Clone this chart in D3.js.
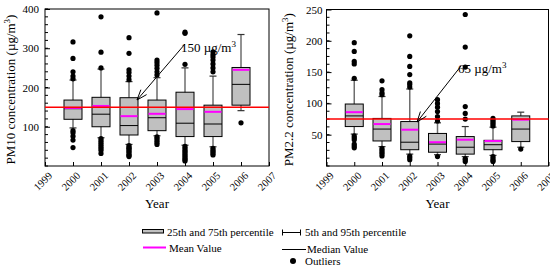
<!DOCTYPE html>
<html>
<head>
<meta charset="utf-8">
<script src="https://cdn.jsdelivr.net/npm/d3@7"></script>
<style>
  body { margin: 0; background: #fff; }
  svg { display: block; font-family: "Liberation Serif", "Times New Roman", serif; }
</style>
</head>
<body>
<svg></svg>
<script>
let years = [2000, 2001, 2002, 2003, 2004, 2005, 2006];
let yearTicks = [1999, 2000, 2001, 2002, 2003, 2004, 2005, 2006, 2007];

// PM10
let pm10Q1 = [119, 100, 79, 90, 75, 75, 155];
let pm10Median = [146, 132, 103, 123, 109, 107, 208];
let pm10Q3 = [168, 175, 174, 168, 188, 155, 251];
let pm10Mean = [148, 153, 127, 133, 145, 138, 245];
let pm10Low = [97, 72, 55, 77, 53, 49, 141];
let pm10High = [219, 247, 215, 225, 250, 229, 335];
let pm10Outliers = [
  [316, 274, 240, 229, 222, 90, 85, 76, 66, 47],
  [380, 290, 250, 70, 65, 60, 55, 50, 45, 40, 32],
  [327, 287, 245, 238, 229, 220, 52, 48, 45, 42, 38, 35, 30, 27, 24],
  [390, 270, 264, 257, 249, 240, 232, 74, 70, 65, 60, 55],
  [341, 338, 259, 50, 45, 40, 36, 32, 28, 24, 20, 16, 13],
  [291, 284, 278, 270, 260, 250, 240, 45, 40, 36, 32, 28],
  [110]
];
let pm10Ticks = [100, 200, 300, 400];
let pm10Limit = 150;

// PM2.2
let pm22Q1 = [63, 40, 26, 22, 19, 26, 39];
let pm22Median = [80, 59, 38, 35, 30, 34, 59];
let pm22Q3 = [99, 76, 71, 52, 47, 41, 80];
let pm22Mean = [86, 67, 58, 38, 42, 40, 74];
let pm22Low = [51, 31, 19, 18, 15, 17, 30];
let pm22High = [137, 111, 123, 69, 63, 62, 86];
let pm22Outliers = [
  [197, 183, 167, 163, 140, 48, 45, 42, 35, 32, 29],
  [136, 122, 117, 114, 28, 25, 22, 19, 16],
  [208, 175, 159, 146, 133, 130, 126, 16, 13, 10],
  [106, 100, 94, 87, 79, 72, 15],
  [242, 190, 158, 95, 84, 75, 12, 10, 7],
  [76, 73, 70, 67, 64, 15, 12, 9, 7],
  [27]
];
let pm22Ticks = [50, 100, 150, 200, 250];
let pm22Limit = 75;

let width = 550;
let height = 266;
let svg = d3.select("svg").attr("width", width).attr("height", height);

let boxWidth = 18;
let capWidth = 7;

let drawPanel = (p) => {
  let x = d3.scaleLinear().domain([1999, 2007]).range([p.left, p.right]);
  let y = d3.scaleLinear().domain([0, p.max]).range([p.bottom, p.top]);
  let g = svg.append("g");

  // minor ticks
  let minor = d3.range(0, p.max + 0.01, p.minorStep);
  g.selectAll("line.minor")
    .data(minor)
    .enter()
    .append("line")
    .attr("x1", p.left)
    .attr("x2", p.left + 3)
    .attr("y1", (d) => y(d))
    .attr("y2", (d) => y(d))
    .attr("stroke", "#000")
    .attr("stroke-width", 1);

  let yAxis = d3.axisLeft(y).tickValues(p.ticks).tickSize(-5).tickPadding(6);
  g.append("g")
    .attr("transform", `translate(${p.left},0)`)
    .call(yAxis)
    .call((a) => a.select(".domain").remove())
    .call((a) => a.selectAll("text").attr("font-size", 11).attr("font-family", "Liberation Serif").attr("dx", p.labelDx));

  let xAxis = d3.axisBottom(x).tickValues(yearTicks).tickSize(-4).tickFormat(d3.format("d"));
  g.append("g")
    .attr("transform", `translate(0,${p.bottom})`)
    .call(xAxis)
    .call((a) => a.select(".domain").remove())
    .call((a) =>
      a.selectAll("text")
        .attr("font-size", 10.5)
        .attr("font-family", "Liberation Serif")
        .attr("text-anchor", "end")
        .attr("dy", "0.3em")
        .attr("transform", "translate(3,6) rotate(-45)")
    );

  // frame
  g.append("rect")
    .attr("x", p.left)
    .attr("y", p.top)
    .attr("width", p.right - p.left)
    .attr("height", p.bottom - p.top)
    .attr("fill", "none")
    .attr("stroke", "#000")
    .attr("stroke-width", 1);

  let idx = d3.range(years.length);

  // whiskers
  g.selectAll("line.whisker")
    .data(idx)
    .enter()
    .append("line")
    .attr("x1", (i) => x(years[i]))
    .attr("x2", (i) => x(years[i]))
    .attr("y1", (i) => y(p.low[i]))
    .attr("y2", (i) => y(p.high[i]))
    .attr("stroke", "#6e6e6e")
    .attr("stroke-width", 1.5);
  [p.low, p.high].forEach((arr) => {
    g.selectAll(null)
      .data(idx)
      .enter()
      .append("line")
      .attr("x1", (i) => x(years[i]) - capWidth / 2)
      .attr("x2", (i) => x(years[i]) + capWidth / 2)
      .attr("y1", (i) => y(arr[i]))
      .attr("y2", (i) => y(arr[i]))
      .attr("stroke", "#333")
      .attr("stroke-width", 1.2);
  });

  // boxes
  g.selectAll("rect.box")
    .data(idx)
    .enter()
    .append("rect")
    .attr("x", (i) => x(years[i]) - boxWidth / 2)
    .attr("y", (i) => y(p.q3[i]))
    .attr("width", boxWidth)
    .attr("height", (i) => y(p.q1[i]) - y(p.q3[i]))
    .attr("fill", "#c0c0c0")
    .attr("stroke", "#000")
    .attr("stroke-width", 1);

  g.selectAll("line.median")
    .data(idx)
    .enter()
    .append("line")
    .attr("x1", (i) => x(years[i]) - boxWidth / 2)
    .attr("x2", (i) => x(years[i]) + boxWidth / 2)
    .attr("y1", (i) => y(p.median[i]))
    .attr("y2", (i) => y(p.median[i]))
    .attr("stroke", "#000")
    .attr("stroke-width", 1);

  g.selectAll("line.mean")
    .data(idx)
    .enter()
    .append("line")
    .attr("x1", (i) => x(years[i]) - boxWidth / 2 + 0.5)
    .attr("x2", (i) => x(years[i]) + boxWidth / 2 - 0.5)
    .attr("y1", (i) => y(p.mean[i]))
    .attr("y2", (i) => y(p.mean[i]))
    .attr("stroke", "#ff00ff")
    .attr("stroke-width", 2);

  // outliers
  let pts = [];
  p.outliers.forEach((arr, i) => arr.forEach((v) => pts.push([years[i], v])));
  g.selectAll("circle")
    .data(pts)
    .enter()
    .append("circle")
    .attr("cx", (d) => x(d[0]))
    .attr("cy", (d) => y(d[1]))
    .attr("r", 2.6)
    .attr("fill", "#000");

  // limit line
  g.append("line")
    .attr("x1", p.left)
    .attr("x2", p.right)
    .attr("y1", y(p.limit))
    .attr("y2", y(p.limit))
    .attr("stroke", "#ff0000")
    .attr("stroke-width", 1.5);

  // annotation arrow
  let a = p.arrow;
  g.append("line")
    .attr("x1", a[0]).attr("y1", a[1]).attr("x2", a[2]).attr("y2", a[3])
    .attr("stroke", "#000").attr("stroke-width", 1);
  let ang = Math.atan2(a[1] - a[3], a[0] - a[2]);
  [-0.35, 0.35].forEach((da) => {
    g.append("line")
      .attr("x1", a[2]).attr("y1", a[3])
      .attr("x2", a[2] + 11 * Math.cos(ang + da))
      .attr("y2", a[3] + 11 * Math.sin(ang + da))
      .attr("stroke", "#000").attr("stroke-width", 1);
  });
  let t = g.append("text")
    .attr("x", p.noteX)
    .attr("y", p.noteY)
    .attr("font-size", 13);
  t.append("tspan").text(p.note + " \u00b5g/m");
  t.append("tspan").attr("dy", -5).attr("font-size", 9).text("3");

  // axis titles
  g.append("text")
    .attr("x", (p.left + p.right) / 2)
    .attr("y", 208)
    .attr("text-anchor", "middle")
    .attr("font-size", 13)
    .text("Year");
  let yt = g.append("text")
    .attr("transform", `translate(${p.titleX},${(p.top + p.bottom) / 2 + 2}) rotate(-90)`)
    .attr("text-anchor", "middle")
    .attr("font-size", 13);
  yt.append("tspan").text(p.title + " concentration (\u00b5g/m");
  yt.append("tspan").attr("dy", -5).attr("font-size", 9).text("3");
  yt.append("tspan").attr("dy", 5).text(")");
};

drawPanel({
  left: 45, right: 269, top: 9, bottom: 166, max: 400, minorStep: 20,
  ticks: pm10Ticks, labelDx: 0,
  q1: pm10Q1, median: pm10Median, q3: pm10Q3, mean: pm10Mean,
  low: pm10Low, high: pm10High, outliers: pm10Outliers, limit: pm10Limit,
  arrow: [185, 44, 137, 100], note: "150", noteX: 181, noteY: 52,
  title: "PM10", titleX: 15
});

drawPanel({
  left: 326.5, right: 548.5, top: 9.5, bottom: 166, max: 250, minorStep: 12.5,
  ticks: pm22Ticks, labelDx: 2,
  q1: pm22Q1, median: pm22Median, q3: pm22Q3, mean: pm22Mean,
  low: pm22Low, high: pm22High, outliers: pm22Outliers, limit: pm22Limit,
  arrow: [461, 66, 417, 122], note: "65", noteX: 458, noteY: 73,
  title: "PM2.2", titleX: 293
});

// legend
let leg = svg.append("g").attr("font-size", 11);
leg.append("rect")
  .attr("x", 142.5).attr("y", 229.5).attr("width", 21).attr("height", 3.5)
  .attr("fill", "#c0c0c0").attr("stroke", "#000").attr("stroke-width", 1);
leg.append("text").attr("x", 167).attr("y", 236).text("25th and 75th percentile");
leg.append("line")
  .attr("x1", 143).attr("x2", 166).attr("y1", 247.5).attr("y2", 247.5)
  .attr("stroke", "#ff00ff").attr("stroke-width", 2);
leg.append("text").attr("x", 169).attr("y", 251.5).text("Mean Value");

leg.append("line")
  .attr("x1", 282).attr("x2", 301).attr("y1", 232.5).attr("y2", 232.5)
  .attr("stroke", "#000").attr("stroke-width", 1);
[282.5, 300.5].forEach((cx) => {
  leg.append("line")
    .attr("x1", cx).attr("x2", cx).attr("y1", 229.5).attr("y2", 235.5)
    .attr("stroke", "#000").attr("stroke-width", 1);
});
leg.append("text").attr("x", 305).attr("y", 236).text("5th and 95th percentile");
leg.append("line")
  .attr("x1", 282).attr("x2", 306).attr("y1", 249.5).attr("y2", 249.5)
  .attr("stroke", "#000").attr("stroke-width", 1);
leg.append("text").attr("x", 307).attr("y", 252.5).text("Median Value");
leg.append("circle").attr("cx", 293).attr("cy", 261).attr("r", 3).attr("fill", "#000");
leg.append("text").attr("x", 305).attr("y", 264.5).text("Outliers");
</script>
</body>
</html>
